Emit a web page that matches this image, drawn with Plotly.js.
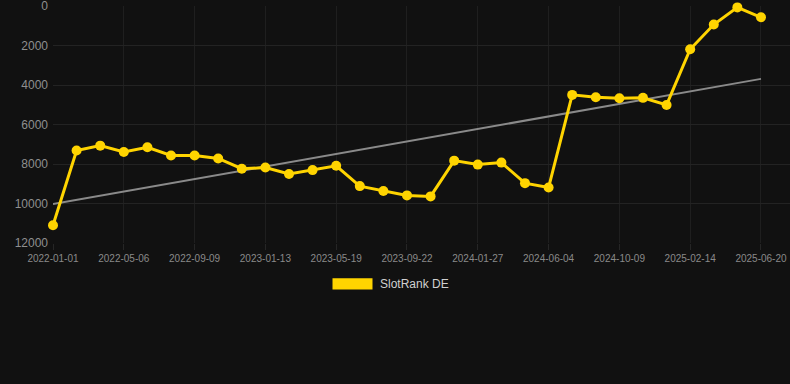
<!DOCTYPE html>
<html>
<head>
<meta charset="utf-8">
<script src="https://cdn.plot.ly/plotly-3.0.1.min.js"></script>
<style>html,body{margin:0;padding:0;background:#111111;}#chart{width:790px;height:384px;}</style>
</head>
<body>
<div id="chart"></div>
<script>
var dates = ["2022-01-01","2022-02-12","2022-03-25","2022-05-06","2022-06-17","2022-07-29","2022-09-09","2022-10-21","2022-12-02","2023-01-13","2023-02-24","2023-04-07","2023-05-19","2023-06-30","2023-08-11","2023-09-22","2023-11-03","2023-12-15","2024-01-27","2024-03-09","2024-04-22","2024-06-04","2024-07-16","2024-08-27","2024-10-09","2024-11-20","2025-01-02","2025-02-14","2025-03-28","2025-05-09","2025-06-20"];
var rankDE = [11100,7320,7070,7390,7150,7570,7570,7720,8240,8180,8510,8310,8090,9120,9370,9590,9640,7830,8030,7930,8970,9190,4500,4620,4670,4650,5010,2190,940,70,570];
var tickDates = ["2022-01-01","2022-05-06","2022-09-09","2023-01-13","2023-05-19","2023-09-22","2024-01-27","2024-06-04","2024-10-09","2025-02-14","2025-06-20"];
var trendX = ["2022-01-01","2025-06-20"];
var trendY = [10030,3690];
var yTicks = [0,2000,4000,6000,8000,10000,12000];
var yTickText = ["0","2000","4000","6000","8000","10000","12000"];
var seriesName = "SlotRank DE";

var traces = [
  {x: trendX, y: trendY, type: "scatter", mode: "lines",
   line: {color: "#8a8a8a", width: 2}, hoverinfo: "skip", showlegend: false},
  {x: dates, y: rankDE, type: "scatter", mode: "lines+markers", name: seriesName,
   line: {color: "#FFD400", width: 3}, marker: {color: "#FFD400", size: 10},
   cliponaxis: false, showlegend: false}
];

var layout = {
  width: 790, height: 384,
  paper_bgcolor: "#111111", plot_bgcolor: "#111111",
  margin: {l: 53, r: 0, t: 6, b: 141},
  font: {family: "Liberation Sans, Arial, sans-serif"},
  xaxis: {type: "category", categoryorder: "array", categoryarray: dates,
    range: [0, 31.23], tickmode: "array", tickvals: tickDates, ticktext: tickDates,
    showgrid: true, gridcolor: "#1f1f1f", zeroline: false, showline: false,
    ticks: "outside", ticklen: 6, tickcolor: "#262626",
    tickfont: {size: 10, color: "#8a8a8a"}, tickangle: 0},
  yaxis: {range: [12000, 0], tickmode: "array", tickvals: yTicks, ticktext: yTickText,
    showgrid: true, gridcolor: "#232323", zeroline: false, showline: false,
    tickfont: {size: 12, color: "#8f8f8f"}, ticklabelstandoff: 4,
    ticklabeloverflow: "allow"},
  shapes: [{type: "rect", xref: "paper", yref: "paper",
    x0: (332.5-53)/737, x1: (372.5-53)/737, y0: (243-289.5)/237, y1: (243-278.3)/237,
    fillcolor: "#FFD400", line: {width: 0}}],
  annotations: [{xref: "paper", yref: "paper", x: (378-53)/737, y: (243-284)/237,
    xanchor: "left", yanchor: "middle", showarrow: false, text: seriesName,
    font: {size: 12, color: "#d0d0d0"}}]
};

Plotly.newPlot("chart", traces, layout, {displayModeBar: false, staticPlot: true});
</script>
</body>
</html>
